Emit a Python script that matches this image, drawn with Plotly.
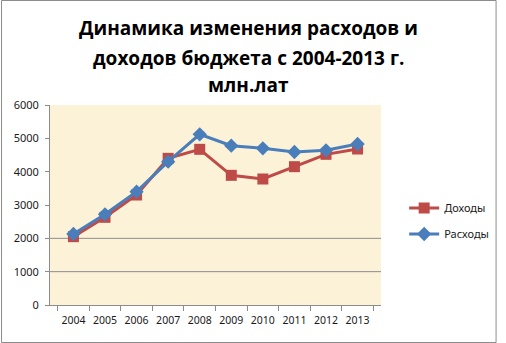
import plotly.graph_objects as go

years = ["2004", "2005", "2006", "2007", "2008", "2009", "2010", "2011", "2012", "2013"]
dohody = [2050, 2630, 3300, 4400, 4670, 3890, 3780, 4150, 4520, 4680]
rashody = [2130, 2720, 3400, 4300, 5120, 4780, 4700, 4590, 4640, 4830]
grid_levels = [1000, 2000]
title_lines = ["Динамика изменения расходов и", "доходов бюджета с 2004-2013 г.", "млн.лат"]

W, H = 506, 343
L, R, T, B = 50, 118, 105, 38
pw = W - L - R
ph = H - T - B

fig = go.Figure()
fig.add_trace(go.Scatter(x=years, y=dohody, name="Доходы", mode="lines+markers",
                         legendgroup="a",
                         line=dict(color="#BE4B48", width=3),
                         marker=dict(symbol="square", size=11, color="#BE4B48")))
fig.add_trace(go.Scatter(x=years, y=rashody, name="Расходы", mode="lines+markers",
                         legendgroup="b",
                         line=dict(color="#4A7EBB", width=3),
                         marker=dict(symbol="diamond", size=11, color="#4A7EBB")))

shapes = []
for g in grid_levels:
    shapes.append(dict(type="line", xref="paper", yref="y", x0=0, x1=1, y0=g, y1=g,
                       line=dict(color="#8C8C8C", width=1), layer="below"))
shapes.append(dict(type="rect", xref="paper", yref="paper",
                   x0=-(L - 0.5) / pw, x1=(W - L - 0.5) / pw,
                   y0=-(B - 0.5) / ph, y1=(H - B - 0.5) / ph,
                   line=dict(color="#8C8C8C", width=1)))

line_centers = [28, 58, 85]
annotations = []
for txt, yc in zip(title_lines, line_centers):
    annotations.append(dict(text="<b>" + txt + "</b>", xref="paper", yref="paper",
                            x=(253 - L) / pw, y=(H - B - yc) / ph,
                            xanchor="center", yanchor="middle", showarrow=False,
                            font=dict(family="Open Sans", size=19, color="black")))

fig.update_layout(
    width=W, height=H,
    margin=dict(l=L, r=R, t=T, b=B),
    paper_bgcolor="white",
    plot_bgcolor="#FCF2D8",
    font=dict(family="Noto Sans", size=11, color="#1A1A1A"),
    showlegend=True,
    legend=dict(x=1.07, y=0.42, xanchor="left", yanchor="middle",
                bgcolor="rgba(0,0,0,0)", font=dict(size=11, color="#1A1A1A"),
                itemwidth=30, tracegroupgap=7),
    shapes=shapes,
    annotations=annotations,
    xaxis=dict(type="category", showgrid=False, showline=True, linecolor="#8C8C8C",
               ticks="outside", tickson="boundaries", ticklen=5, tickcolor="#8C8C8C",
               tickangle=0, tickfont=dict(size=10.5), ticklabelstandoff=5, fixedrange=True),
    yaxis=dict(range=[0, 6000], dtick=1000, showgrid=False, showline=True,
               linecolor="#8C8C8C", ticks="outside", ticklen=4, tickcolor="#8C8C8C",
               zeroline=False, tickfont=dict(size=11), ticklabelstandoff=4),
)

fig.write_html("out.html")
